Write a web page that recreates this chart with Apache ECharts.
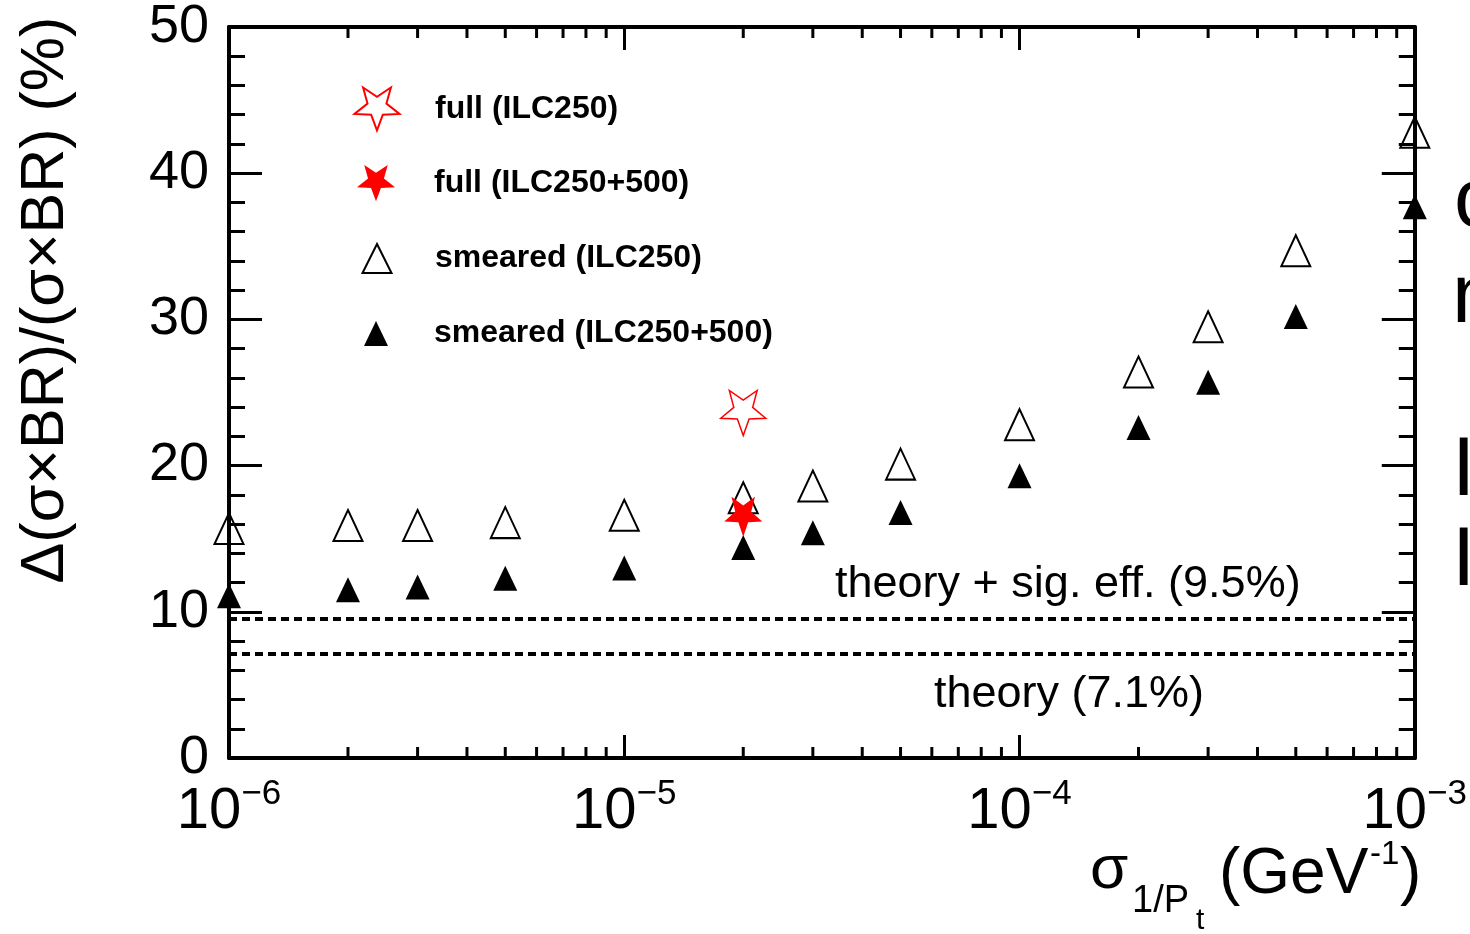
<!DOCTYPE html>
<html>
<head>
<meta charset="utf-8">
<script src="https://cdn.jsdelivr.net/npm/echarts@6/dist/echarts.min.js"></script>
<style>
  html, body { margin: 0; padding: 0; background: #ffffff; }
  #chart { width: 1470px; height: 934px; }
</style>
</head>
<body>
<div id="chart"></div>
<script>
// Momentum resolution scan: sigma(1/Pt) in GeV^-1
const sigmaValues = [1e-6, 2e-6, 3e-6, 5e-6, 1e-5, 2e-5, 3e-5, 5e-5, 1e-4, 2e-4, 3e-4, 5e-4, 1e-3];
// relative error on sigma x BR (%), smeared samples
const smeared250 = [15.7, 15.9, 15.9, 16.1, 16.6, 17.8, 18.6, 20.1, 22.8, 26.4, 29.5, 34.7, 42.8];
const smeared250500 = [11.1, 11.5, 11.7, 12.3, 13.0, 14.4, 15.4, 16.8, 19.3, 22.6, 25.7, 30.2, 37.7];
// full simulation points
const fullSigma = [2e-5];
const full250 = [23.6];
const full250500 = [16.5];
// reference levels (%)
const theoryLevels = [9.5, 7.1];
// axis ticks
const yTicks = [0, 10, 20, 30, 40, 50];
const decadeStarts = [1e-6, 1e-5, 1e-4];
const minorMultipliers = [2, 3, 4, 5, 6, 7, 8, 9];

const seriesNames = ['full (ILC250)', 'full (ILC250+500)', 'smeared (ILC250)', 'smeared (ILC250+500)'];

const FONT = '"Liberation Sans", Helvetica, Arial, sans-serif';
// downward-pointing five-point star
const STAR = 'path://M95 181L70.3 115L0 111.9L55.1 68L36.2 0L95 39L153.8 0L134.9 68L190.1 111.9L119.7 115Z';

const minorTickValues = decadeStarts.flatMap(d => minorMultipliers.map(m => m * d));
const yMin = yTicks[0], yMax = yTicks[yTicks.length - 1];

const chart = echarts.init(document.getElementById('chart'), null, { renderer: 'canvas' });

const frameLine = { show: true, onZero: false, lineStyle: { color: '#000', width: 4 } };

function xLabel(value) {
  const e = Math.round(Math.log10(value));
  return '{b|10}{e|' + (e < 0 ? '\u2212' : '') + Math.abs(e) + '}';
}

function legendFor(name, left, top, w, h, pad) {
  return {
    data: [name], orient: 'vertical', left: left, top: top,
    itemWidth: w, itemHeight: h, itemGap: 0, padding: 0,
    selectedMode: false,
    textStyle: { fontFamily: FONT, fontSize: 32, fontWeight: 'bold', color: '#000', padding: [0, 0, 0, pad] }
  };
}

function label(text, x, y, size, extra) {
  return Object.assign({
    type: 'text', x: x, y: y, silent: true,
    style: { text: text, font: size + 'px ' + FONT, fill: '#000', align: 'left', verticalAlign: 'middle' }
  }, extra || {});
}

const option = {
  animation: false,
  backgroundColor: '#ffffff',
  grid: { left: 229, right: 51, top: 24, bottom: 176, containLabel: false },
  legend: [
    legendFor(seriesNames[0], 353.5, 86.5, 45, 45, 30.5),
    legendFor(seriesNames[1], 357, 165, 38, 40, 34),
    legendFor(seriesNames[2], 361.5, 242.5, 29, 29, 38.5),
    legendFor(seriesNames[3], 364, 317.5, 24, 25, 41)
  ],
  xAxis: [
    {
      type: 'log', logBase: 10, min: 1e-6, max: 1e-3, splitNumber: 3, position: 'bottom',
      axisLine: frameLine,
      axisTick: { show: true, inside: true, length: 23, lineStyle: { color: '#000', width: 3 } },
      splitLine: { show: false },
      axisLabel: {
        show: true, margin: 19, formatter: xLabel, showMinLabel: true, showMaxLabel: true, hideOverlap: false,
        rich: {
          b: { fontFamily: FONT, fontSize: 58, lineHeight: 64, color: '#000', verticalAlign: 'bottom' },
          e: { fontFamily: FONT, fontSize: 35, lineHeight: 24, color: '#000', verticalAlign: 'top' }
        }
      }
    },
    {
      type: 'log', logBase: 10, min: 1e-6, max: 1e-3, splitNumber: 3, position: 'top',
      axisLine: frameLine,
      axisTick: { show: true, inside: true, length: 23, lineStyle: { color: '#000', width: 3 } },
      splitLine: { show: false },
      axisLabel: { show: false }
    }
  ],
  yAxis: [
    {
      type: 'value', min: yMin, max: yMax, interval: 10, position: 'left',
      axisLine: frameLine,
      axisTick: { show: true, inside: true, length: 33, lineStyle: { color: '#000', width: 3 } },
      minorTick: { show: true, splitNumber: 5, length: 16, lineStyle: { color: '#000', width: 3 } },
      splitLine: { show: false }, minorSplitLine: { show: false },
      axisLabel: { fontFamily: FONT, fontSize: 54, color: '#000', margin: 20 }
    },
    {
      type: 'value', min: yMin, max: yMax, interval: 10, position: 'right',
      axisLine: frameLine,
      axisTick: { show: true, inside: true, length: 33, lineStyle: { color: '#000', width: 3 } },
      minorTick: { show: true, splitNumber: 5, length: 16, lineStyle: { color: '#000', width: 3 } },
      splitLine: { show: false }, minorSplitLine: { show: false },
      axisLabel: { show: false }
    }
  ],
  series: [
    {
      // logarithmic minor ticks on bottom and top edges
      type: 'custom', name: 'logMinorTicks', xAxisIndex: 0, yAxisIndex: 0, clip: false, silent: true, z: 1,
      data: minorTickValues.map(v => [v, yMin]),
      renderItem: function (params, api) {
        const v = api.value(0);
        const b = api.coord([v, yMin]);
        const t = api.coord([v, yMax]);
        return {
          type: 'group',
          children: [
            { type: 'line', shape: { x1: b[0], y1: b[1], x2: b[0], y2: b[1] - 11 }, style: { stroke: '#000', lineWidth: 3 } },
            { type: 'line', shape: { x1: t[0], y1: t[1], x2: t[0], y2: t[1] + 11 }, style: { stroke: '#000', lineWidth: 3 } }
          ]
        };
      }
    },
    {
      name: seriesNames[2], type: 'scatter', clip: false, z: 3,
      symbol: 'triangle', symbolSize: [29, 31],
      itemStyle: { color: 'rgba(255,255,255,0)', borderColor: '#000', borderWidth: 2, opacity: 1 },
      emphasis: { disabled: true },
      data: sigmaValues.map((x, i) => [x, smeared250[i]]),
      markLine: {
        silent: true, symbol: ['none', 'none'], animation: false,
        label: { show: false },
        lineStyle: { color: '#000', width: 4, type: [8, 5], opacity: 1 },
        emphasis: { disabled: true },
        data: theoryLevels.map(v => ({ yAxis: v }))
      }
    },
    {
      name: seriesNames[3], type: 'scatter', clip: false, z: 3,
      symbol: 'triangle', symbolSize: [24, 25],
      itemStyle: { color: '#000', opacity: 1 },
      emphasis: { disabled: true },
      data: sigmaValues.map((x, i) => [x, smeared250500[i]])
    },
    {
      name: seriesNames[0], type: 'scatter', clip: false, z: 4,
      symbol: STAR, symbolSize: [45, 45],
      itemStyle: { color: 'rgba(255,255,255,0)', borderColor: '#ff0000', borderWidth: 1.5, opacity: 1 },
      emphasis: { disabled: true },
      data: fullSigma.map((x, i) => [x, full250[i]])
    },
    {
      name: seriesNames[1], type: 'scatter', clip: false, z: 4,
      symbol: STAR, symbolSize: [38, 40],
      itemStyle: { color: '#ff0000', opacity: 1 },
      emphasis: { disabled: true },
      data: fullSigma.map((x, i) => [x, full250500[i]])
    }
  ],
  graphic: [
    // y-axis title
    {
      type: 'text', x: 46, y: 300, rotation: Math.PI / 2, silent: true,
      style: { text: '\u0394(\u03c3\u00d7BR)/(\u03c3\u00d7BR) (%)', font: '61px ' + FONT, fill: '#000', align: 'center', verticalAlign: 'middle' }
    },
    // x-axis title: sigma_{1/P_t} (GeV^{-1})
    label('\u03c3', 1090, 871, 62),
    label('1/P', 1132, 902, 38),
    label('t', 1196, 921, 30),
    label('(GeV', 1219, 875, 64),
    label('-1', 1370, 855, 33),
    label(')', 1400, 875, 64),
    // reference level annotations
    label('theory + sig. eff. (' + theoryLevels[0] + '%)', 835, 585, 45),
    label('theory (' + theoryLevels[1] + '%)', 934, 695, 45),
    // neighbouring slide text running off the right edge
    label('c', 1454, 203, 84),
    label('n', 1452, 299, 84),
    label('I', 1452, 472, 84),
    label('I', 1452, 562, 84)
  ]
};

chart.setOption(option);
</script>
</body>
</html>
